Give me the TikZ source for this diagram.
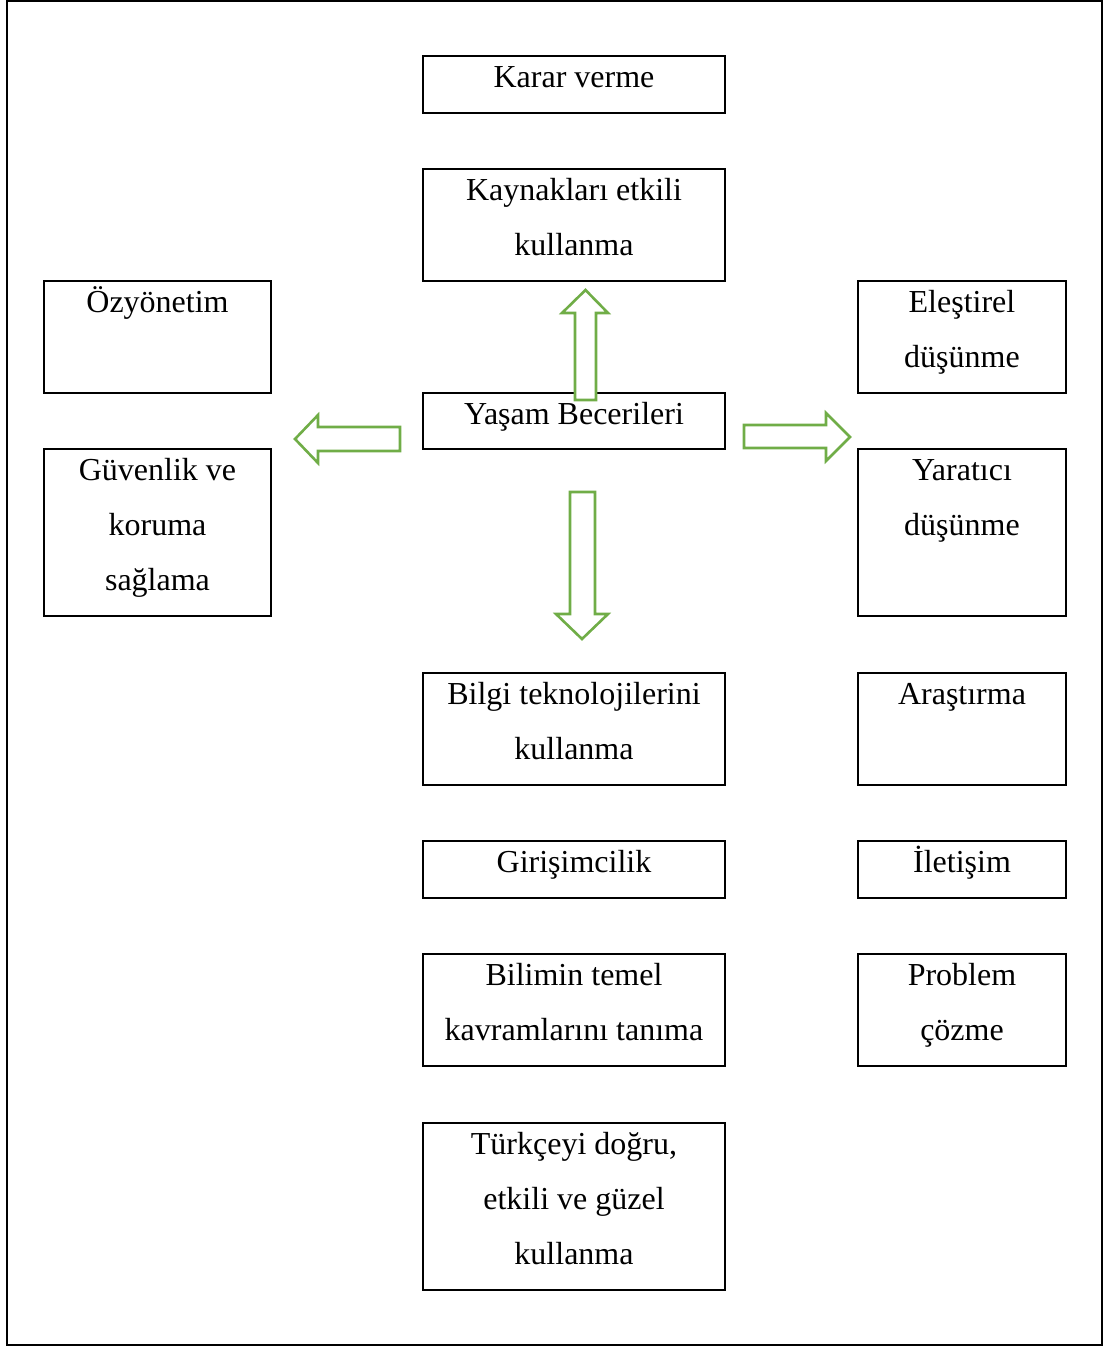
\documentclass[tikz,border=0pt]{standalone}
\usepackage{fontspec}
\setmainfont{Liberation Serif}
\usetikzlibrary{fit}
\definecolor{arrowgreen}{HTML}{70AD47}
\tikzset{
 box/.style={draw=black, line width=2.4pt, inner sep=0pt, rectangle},
 lbl/.style={anchor=north, inner sep=0pt, align=center, font=\fontsize{32}{55}\selectfont},
 blockarrow/.style={draw=arrowgreen, line width=2.6pt, fill=white, line join=miter},
}
\newcommand\bx[6]{\node[box, fit={(#2,#3) (#4,#5)}] (#1) {};
 \node[lbl] (#1t) at ([yshift=-4pt]#1.north) {\rule{0pt}{28pt}#6};}
\begin{document}
\begin{tikzpicture}[x=1pt,y=-1pt]
\useasboundingbox (0,0) rectangle (1107,1347);
\node[draw, line width=2.2pt, inner sep=0pt, fit={(7,1) (1102,1345)}] (frame) {};
% boxes
\bx{karar}{423}{56}{725}{113}{Karar verme}
\bx{kaynak}{423}{169}{725}{281}{Kaynakları etkili\\kullanma}
\bx{ozyon}{44}{281}{271}{393}{Özyönetim}
\bx{elest}{858}{281}{1066}{393}{Eleştirel\\düşünme}
\bx{guven}{44}{449}{271}{616}{Güvenlik ve\\koruma\\sağlama}
\bx{yarat}{858}{449}{1066}{616}{Yaratıcı\\düşünme}
\bx{bilgi}{423}{673}{725}{785}{Bilgi teknolojilerini\\kullanma}
\bx{arast}{858}{673}{1066}{785}{Araştırma}
\bx{girisim}{423}{841}{725}{898}{Girişimcilik}
\bx{iletis}{858}{841}{1066}{898}{İletişim}
\bx{bilim}{423}{954}{725}{1066}{Bilimin temel\\kavramlarını tanıma}
\bx{problem}{858}{954}{1066}{1066}{Problem\\çözme}
\bx{turkce}{423}{1123}{725}{1290}{Türkçeyi doğru,\\etkili ve güzel\\kullanma}
% central box
\node[box, fit={(423,393) (725,449)}] (yb) {};
% block arrows
\draw[blockarrow] (575,400) -- (575,313) -- (562,313) -- (585.5,290) -- (608,313) -- (596,313) -- (596,400) -- cycle;
\draw[blockarrow] (400,427) -- (318,427) -- (318,415) -- (295,439) -- (318,463) -- (318,451) -- (400,451) -- cycle;
\draw[blockarrow] (744,425) -- (826,425) -- (826,413) -- (850,437) -- (826,461) -- (826,448) -- (744,448) -- cycle;
\draw[blockarrow] (570,492) -- (595,492) -- (595,614) -- (608,614) -- (582,639) -- (556,614) -- (570,614) -- cycle;
\node[lbl] (ybt) at ([yshift=-4pt]yb.north) {\rule{0pt}{28pt}Yaşam Becerileri};
\end{tikzpicture}
\end{document}
